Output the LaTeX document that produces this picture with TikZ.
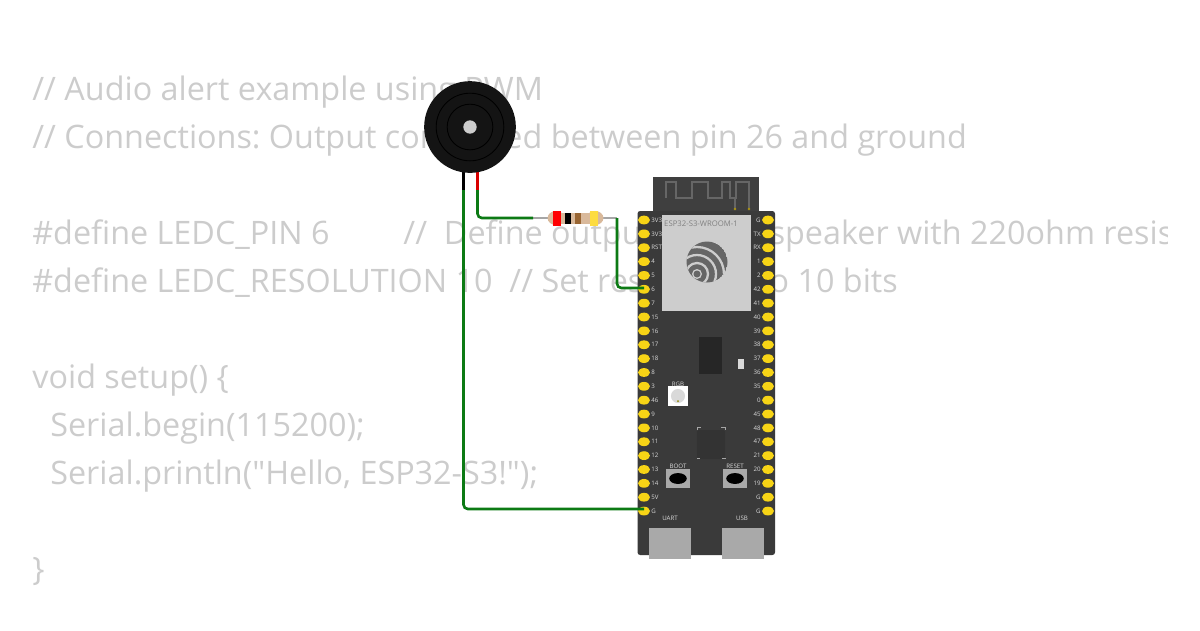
\documentclass[tikz,border=0pt]{standalone}
\usepackage{fontspec}
\setmainfont{Open Sans}[Ligatures=TeXOff]
\frenchspacing
\definecolor{codegray}{HTML}{CCCCCC}
\definecolor{boardgray}{HTML}{3A3A3A}
\definecolor{modgray}{HTML}{CDCDCD}
\definecolor{antgray}{HTML}{3F3F3F}
\definecolor{pingold}{HTML}{F7D416}
\definecolor{wiregreen}{HTML}{0C7A14}
\definecolor{restan}{HTML}{D9B99B}
\definecolor{usbgray}{HTML}{A9A9A9}
\tikzset{
	codeline/.style={anchor=base west, inner sep=0pt, text=codegray, font=\fontsize{18.4}{18.4}\selectfont},
	pinlabel/.style={inner sep=0pt, text=white!85!black, font=\fontsize{3.5}{3.5}\selectfont},
	pinpad/.style={ellipse, minimum width=6.8pt, minimum height=5pt, inner sep=0pt, fill=pingold},
	wire/.style={wiregreen, line width=1.5pt, rounded corners=2.5pt},
}
\usetikzlibrary{shapes.geometric}
\begin{document}
\begin{tikzpicture}[x=0.02cm, y=-0.02cm]
		\useasboundingbox (0,0) rectangle (1200,630);
		% Codigo
		\begin{scope}
			\clip (0,0) rectangle (1167,630);
			\node[codeline] (line1) at (32,100) {// Audio alert example using PWM};
			\node[codeline] (line2) at (32,148) {// Connections: Output connected between pin 26 and ground};
			\node[codeline] (line3) at (32,244) {\#define LEDC\_PIN 6\hspace*{42pt}//\ \ Define output pin for speaker with 220ohm resistor};
			\node[codeline] (line4) at (32,292) {\#define LEDC\_RESOLUTION 10\ \ // Set resolution to 10 bits};
			\node[codeline] (line5) at (32,388) {void setup() \{};
			\node[codeline] (line6) at (50,436) {Serial.begin(115200);};
			\node[codeline] (line7) at (50,484) {Serial.println("Hello, ESP32-S3!");};
			\node[codeline] (line8) at (32,580) {\}};
		\end{scope}

		% Placa
		\fill[boardgray, rounded corners=1.5pt] (637.5,211) rectangle (775,555);
		\fill[antgray] (653,177) rectangle (759,211);
		\draw[black!60, line width=1.1pt] (666,198) -- (666,182) -- (676,182) -- (676,198) -- (692,198) -- (692,182) -- (708,182) -- (708,198) -- (722,198) -- (722,182) -- (730,182) -- (730,198) -- (736,198) -- (736,182) -- (749,182) -- (749,209);
		\draw[black!60, line width=0.6pt] (735,198) -- (735,209);
		\fill[pingold!70!black] (735,209) circle[radius=1.3];
		\fill[pingold!70!black] (749,209) circle[radius=1.3];
		\node[fill=modgray, minimum width=50.5pt, minimum height=54.4pt, inner sep=0pt] (modulo) at (706.25,263) {};
		\node[inner sep=0pt, text=gray, font=\fontsize{4.4}{4.4}\selectfont] (modname) at (701,224) {ESP32-S3-WROOM-1};

		% Logo
		\begin{scope}
			\clip (707,262) circle[radius=20.5];
			\fill[black!60] (707,262) circle[radius=20.5];
			\draw[modgray, line width=1.3pt] (697,274) circle[radius=11];
			\draw[modgray, line width=1.3pt] (697,274) circle[radius=19];
			\draw[modgray, line width=1.3pt] (697,274) circle[radius=27];
			\fill[modgray] (697,274) circle[radius=5];
			\fill[black!60] (697,274) circle[radius=3.5];
		\end{scope}

		% Pines
		\foreach \i/\pinname in {0/3V3,1/3V3,2/RST,3/4,4/5,5/6,6/7,7/15,8/16,9/17,10/18,11/8,12/3,13/46,14/9,15/10,16/11,17/12,18/13,19/14,20/5V,21/G} {
			\node[pinpad] (L\i) at (644,220+13.86*\i) {};
			\node[pinlabel, anchor=west] (LT\i) at (651,220+13.86*\i) {\pinname};
		}
		\foreach \i/\pinname in {0/G,1/TX,2/RX,3/1,4/2,5/42,6/41,7/40,8/39,9/38,10/37,11/36,12/35,13/0,14/45,15/48,16/47,17/21,18/20,19/19,20/G,21/G} {
			\node[pinpad] (R\i) at (768,220+13.86*\i) {};
			\node[pinlabel, anchor=east] (RT\i) at (761,220+13.86*\i) {\pinname};
		}

		% Componentes
		\node[fill=black!85, minimum width=13pt, minimum height=21pt, inner sep=0pt] (flash) at (710.5,355.5) {};
		\node[fill=white!85!black, minimum width=3.4pt, minimum height=5.7pt, inner sep=0pt] (ledpwr) at (741,363.5) {};
		\node[fill=white, minimum width=11.3pt, minimum height=11.3pt, inner sep=0pt] (rgbled) at (678,396) {};
		\node[circle, fill=white!85!black, minimum size=8pt, inner sep=0pt] (rgbcore) at (678,396) {};
		\fill[olive] (678,401) circle[radius=1];
		\node[pinlabel] (rgbname) at (678,384) {RGB};
		\node[fill=black!80, minimum width=16pt, minimum height=16.5pt, inner sep=0pt, rounded corners=1pt] (mcu) at (711,444.5) {};
		\draw[gray!70, line width=0.3pt] (697,430) -- (697,427) -- (701,427);
		\draw[gray!70, line width=0.3pt] (725,430) -- (725,427) -- (721,427);
		\draw[gray!70, line width=0.3pt] (697,459) -- (697,458) -- (700,458);
		\draw[gray!70, line width=0.3pt] (725,459) -- (725,458) -- (722,458);
		\node[fill=usbgray, minimum width=13.6pt, minimum height=10.8pt, inner sep=0pt] (bootbtn) at (678,478.5) {};
		\node[ellipse, fill=black, minimum width=10pt, minimum height=6.2pt, inner sep=0pt] (bootcap) at (678,478.5) {};
		\node[pinlabel] (bootname) at (678,466) {BOOT};
		\node[fill=usbgray, minimum width=13.6pt, minimum height=10.8pt, inner sep=0pt] (resetbtn) at (735,478.5) {};
		\node[ellipse, fill=black, minimum width=10pt, minimum height=6.2pt, inner sep=0pt] (resetcap) at (735,478.5) {};
		\node[pinlabel] (resetname) at (735,466) {RESET};
		\node[pinlabel] (uartname) at (670,518) {UART};
		\node[pinlabel] (usbname) at (742,518) {USB};
		\node[fill=usbgray, minimum width=23.8pt, minimum height=17.6pt, inner sep=0pt] (uartport) at (670,543.5) {};
		\node[fill=usbgray, minimum width=23.8pt, minimum height=17.6pt, inner sep=0pt] (usbport) at (743,543.5) {};

		% Cables
		\coordinate (negpin) at (463.5,190);
		\coordinate (pospin) at (477.5,190);
		\coordinate (resleft) at (533,218);
		\coordinate (resright) at (617,218);
		\coordinate (gndend) at (644,509);
		\coordinate (sixend) at (644,288);
		\draw[gray!70, line width=1.2pt] (resleft) -- (resright);
		\draw[wire] (negpin) |- (gndend);
		\draw[wire] (pospin) |- (resleft);
		\draw[wire] (resright) |- (sixend);

		% Resistencia
		\node[ellipse, fill=restan, minimum width=9.6pt, minimum height=8pt, inner sep=0pt] (resbulbl) at (556,218) {};
		\node[ellipse, fill=restan, minimum width=9.6pt, minimum height=8pt, inner sep=0pt] (resbulbr) at (595,218) {};
		\fill[restan] (556,212.5) rectangle (595,223.5);
		\fill[red] (553,210.5) rectangle (561,225.5);
		\fill[black] (565,212.5) rectangle (571,223.5);
		\fill[brown!80!black] (575,212.5) rectangle (581,223.5);
		\fill[yellow!70!orange!75] (590,210.5) rectangle (598,225.5);

		% Zumbador
		\draw[black, line width=1.5pt] (463.5,170) -- (negpin);
		\draw[red!85!black, line width=1.5pt] (477.5,170) -- (pospin);
		\node[circle, fill=black!92, minimum size=52.2pt, inner sep=0pt] (buzzer) at (470,127) {};
		\node[circle, draw=black, line width=0.5pt, minimum size=38.5pt, inner sep=0pt] (ringout) at (470,127) {};
		\node[circle, draw=black, line width=0.5pt, minimum size=26pt, inner sep=0pt] (ringin) at (470,127) {};
		\node[circle, fill=white!80!black, minimum size=7.6pt, inner sep=0pt] (buzzcore) at (470,127) {};
	\end{tikzpicture}
\end{document}
